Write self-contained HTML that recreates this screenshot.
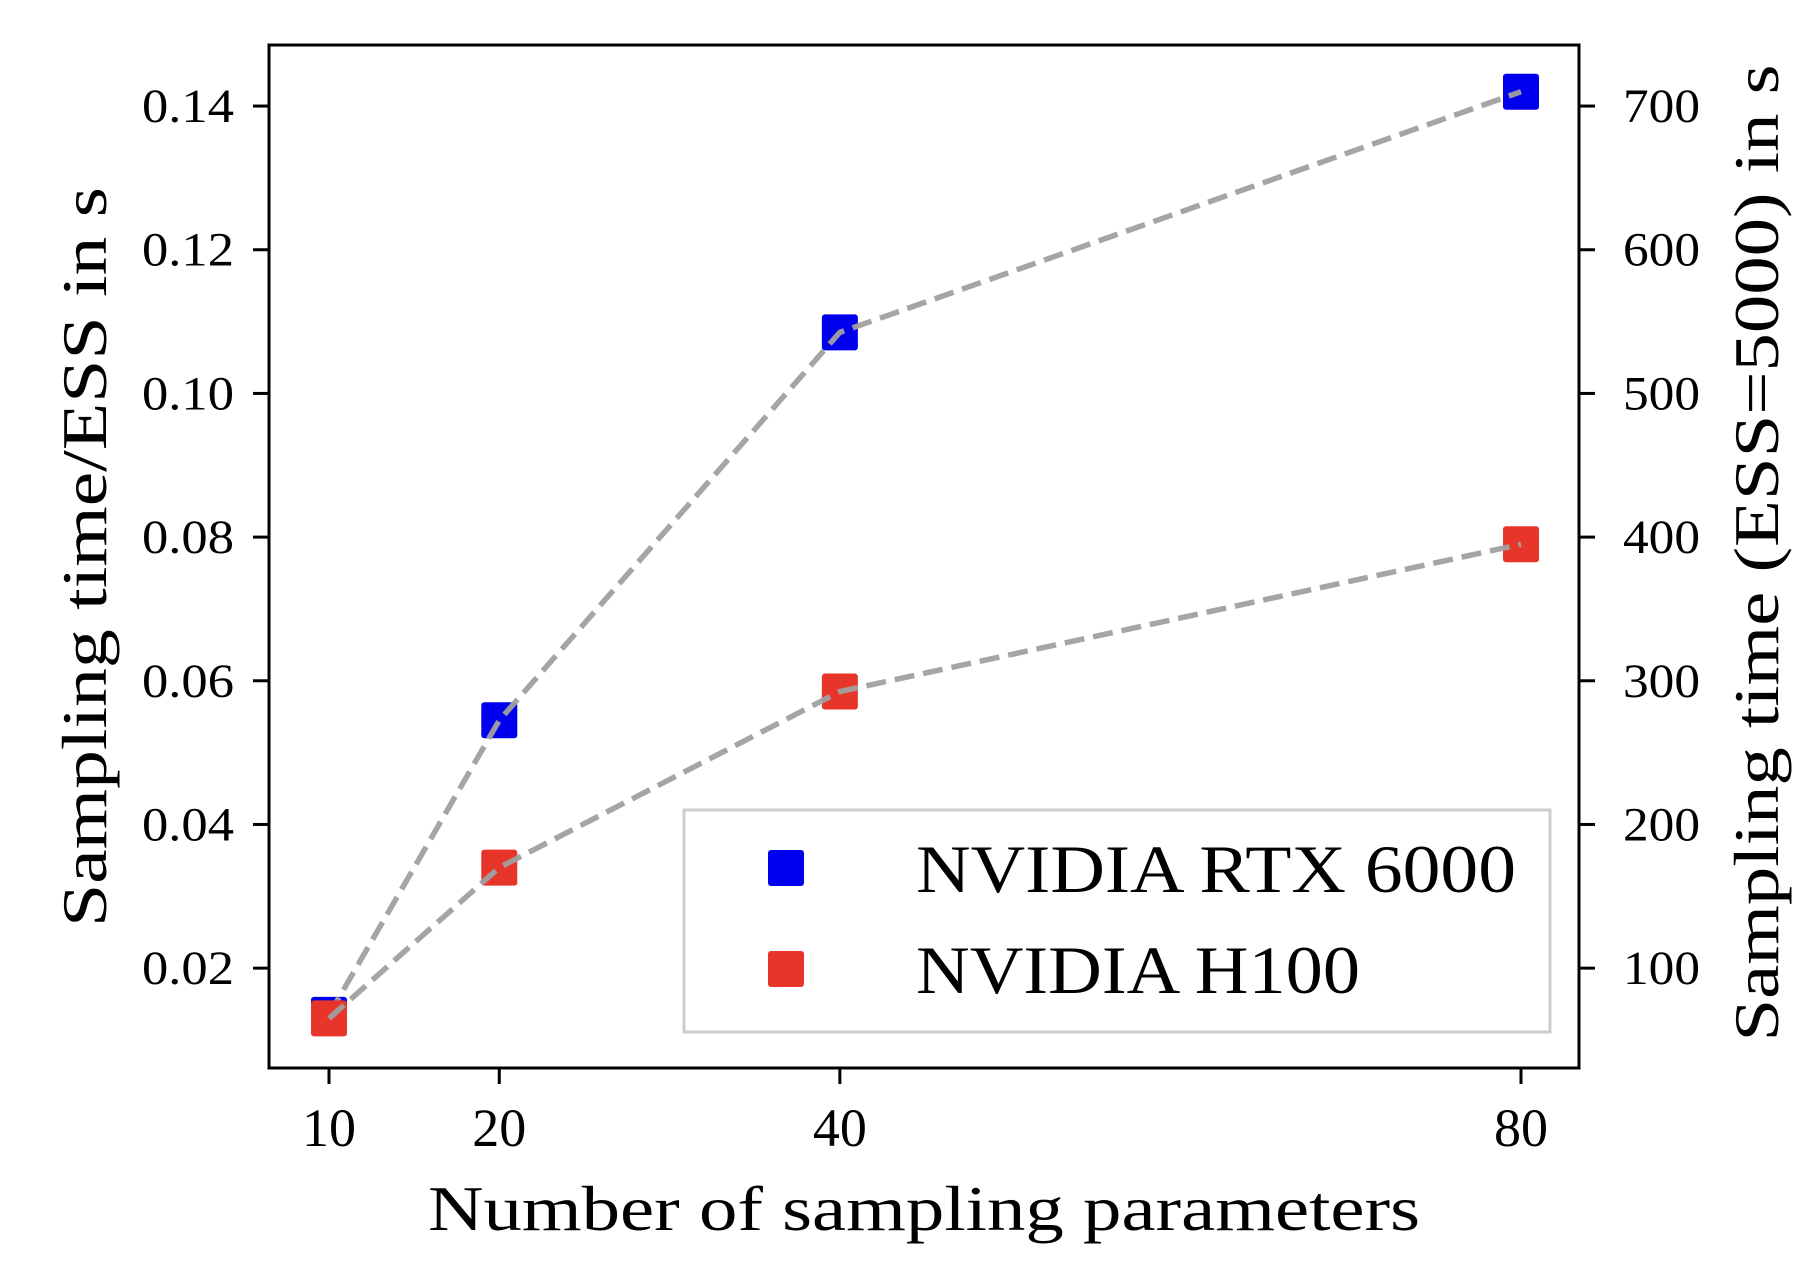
<!DOCTYPE html>
<html><head><meta charset="utf-8"><style>html,body{margin:0;padding:0;background:#fff}svg{display:block}text{font-family:"Liberation Serif",serif;fill:#000}</style></head>
<body>
<svg id="chart" width="1820" height="1272" viewBox="0 0 1820 1272" xmlns="http://www.w3.org/2000/svg"></svg>
<script>
const xCats = [10, 20, 40, 80];
const rtxValues = [0.0135, 0.0545, 0.1085, 0.142];
const h100Values = [0.013, 0.034, 0.0585, 0.079];
const leftTicks = [0.02, 0.04, 0.06, 0.08, 0.10, 0.12, 0.14];
const leftTickLabels = ["0.02","0.04","0.06","0.08","0.10","0.12","0.14"];
const rightTicks = [100, 200, 300, 400, 500, 600, 700];
const ESS = 5000;

const L=269, R=1579, T=45, B=1068;
const yMin=0.0061, yMax=0.1485;
function xs(v){ return 329 + (v-10)*(1521-329)/70; }
function ys(v){ return B - (v-yMin)/(yMax-yMin)*(B-T); }
const svg=document.getElementById('chart');
const NS="http://www.w3.org/2000/svg";
function mk(tag, attrs, parent){ const e=document.createElementNS(NS,tag); for(const k in attrs) e.setAttribute(k,attrs[k]); (parent||svg).appendChild(e); return e; }

function series(vals, color, name){
  xCats.forEach((c,i)=>{
    const r = mk('rect',{x:xs(c)-18,y:ys(vals[i])-18,width:36,height:36,rx:3,fill:color});
    
    
  });
  const ln = mk('polyline',{points:xCats.map((c,i)=>xs(c)+","+ys(vals[i])).join(" "),fill:'none',stroke:'#a0a0a0','stroke-opacity':0.95,'stroke-width':5.5,'stroke-dasharray':'20,9'});
  
  
}
series(rtxValues, '#0000ee', 'rtx6000');
series(h100Values, '#e8352a', 'h100');

const fr = mk('rect',{x:L,y:T,width:R-L,height:B-T,fill:'none',stroke:'#000','stroke-width':3});



xCats.forEach(c=>{
  mk('line',{x1:xs(c),x2:xs(c),y1:B,y2:B+16,stroke:'#000','stroke-width':3});
  const t = mk('text',{x:xs(c),y:1146,'font-size':54,'text-anchor':'middle'});
  t.textContent = String(c);
  
  
});
leftTicks.forEach((v,i)=>{
  mk('line',{x1:L-16,x2:L,y1:ys(v),y2:ys(v),stroke:'#000','stroke-width':3});
  const t = mk('text',{x:234,y:ys(v)+16,'font-size':48,'text-anchor':'end',textLength:92,lengthAdjust:'spacingAndGlyphs'});
  t.textContent = leftTickLabels[i];
  
  
});
rightTicks.forEach(v=>{
  const y = ys(v/ESS);
  mk('line',{x1:R,x2:R+16,y1:y,y2:y,stroke:'#000','stroke-width':3});
  const t = mk('text',{x:1623,y:y+16,'font-size':48,textLength:77,lengthAdjust:'spacingAndGlyphs'});
  t.textContent = String(v);
  
  
});

let t = mk('text',{x:924,y:1230,'font-size':64,'text-anchor':'middle',textLength:992,lengthAdjust:'spacingAndGlyphs'});
t.textContent='Number of sampling parameters';


t = mk('text',{x:0,y:0,'font-size':64,'text-anchor':'middle',textLength:740,lengthAdjust:'spacingAndGlyphs',transform:'translate(106,557) rotate(-90)'});
t.textContent='Sampling time/ESS in s';


t = mk('text',{x:0,y:0,'font-size':64,'text-anchor':'middle',textLength:977,lengthAdjust:'spacingAndGlyphs',transform:'translate(1778,553) rotate(-90)'});
t.textContent='Sampling time (ESS=5000) in s';



const lg = mk('g',{});


mk('rect',{x:684,y:810,width:866,height:222,fill:'#fff','fill-opacity':0.8,stroke:'#cccccc','stroke-width':3},lg);
const entries=[['NVIDIA RTX 6000','#0000ee',868,'legend-entry-rtx6000',600],['NVIDIA H100','#e8352a',969,'legend-entry-h100',444]];
entries.forEach(e=>{
  const g = mk('g',{},lg);
  
  
  mk('rect',{x:768,y:e[2]-18,width:36,height:36,rx:3,fill:e[1]},g);
  const tt = mk('text',{x:916,y:e[2]+24,'font-size':68,textLength:e[4],lengthAdjust:'spacingAndGlyphs'},g);
  tt.textContent=e[0];
});
</script>
</body></html>
